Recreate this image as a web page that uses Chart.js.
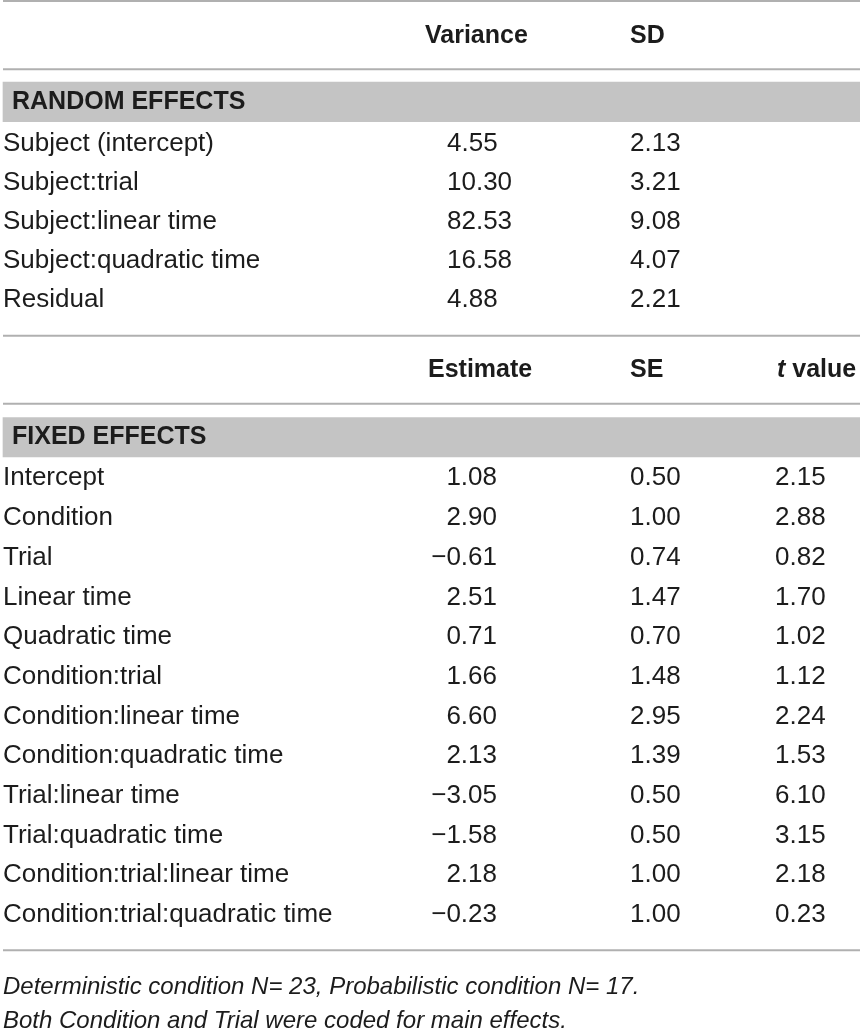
<!DOCTYPE html>
<html>
<head>
<meta charset="utf-8">
<script src="https://cdn.jsdelivr.net/npm/chart.js@4/dist/chart.umd.min.js"></script>
<style>
  html, body { margin: 0; padding: 0; background: #fff; }
  #wrap { width: 860px; height: 1031px; position: relative; }
</style>
</head>
<body>
<div id="wrap"><canvas id="tabela"></canvas></div>
<script>
// dados da tabela
const rfTitulo = "RANDOM EFFECTS";
const rfCabecalho = ["Variance", "SD"];
const rfRotulos = ["Subject (intercept)", "Subject:trial", "Subject:linear time", "Subject:quadratic time", "Residual"];
const rfVariancia = [4.55, 10.30, 82.53, 16.58, 4.88];
const rfDP = [2.13, 3.21, 9.08, 4.07, 2.21];

const feTitulo = "FIXED EFFECTS";
const feCabecalho = ["Estimate", "SE", "t value"];
const feRotulos = ["Intercept", "Condition", "Trial", "Linear time", "Quadratic time", "Condition:trial",
  "Condition:linear time", "Condition:quadratic time", "Trial:linear time", "Trial:quadratic time",
  "Condition:trial:linear time", "Condition:trial:quadratic time"];
const feEstimativa = [1.08, 2.90, -0.61, 2.51, 0.71, 1.66, 6.60, 2.13, -3.05, -1.58, 2.18, -0.23];
const feEP = [0.50, 1.00, 0.74, 1.47, 0.70, 1.48, 2.95, 1.39, 0.50, 0.50, 1.00, 1.00];
const feT = [2.15, 2.88, 0.82, 1.70, 1.02, 1.12, 2.24, 1.53, 6.10, 3.15, 2.18, 0.23];

const notas = ["Deterministic condition N= 23, Probabilistic condition N= 17.",
  "Both Condition and Trial were coded for main effects."];

// layout
const ROW = 39.5;          // altura de uma linha do corpo, em px
const ALTURA = 1031;
const FONTE = "'Liberation Sans', Arial, sans-serif";

function fmt(v) {
  const s = Math.abs(v).toFixed(2);
  return v < 0 ? "\u2212" + s : s; // sinal de menos tipográfico
}

// monta as linhas em unidades de "linha"
let cursor = 0;
const linhas = [];
function add(tipo, h, extra, pos) {
  linhas.push(Object.assign({ tipo: tipo, centro: cursor + h * (pos === undefined ? 0.5 : pos) }, extra || {}));
  cursor += h;
}

add("regua", 0.05);
add("cab", 1.7, { textos: rfCabecalho, xs: [425, 630] }, 0.47);
add("regua", 0);
add("vazio", 0.33);
add("faixa", 1, { texto: rfTitulo }, 0.45);
rfRotulos.forEach((r, i) => {
  add("linha", 0.988, { rotulo: r, celulas: [
    { t: fmt(rfVariancia[i]), x: 447, a: "left" },
    { t: fmt(rfDP[i]), x: 630, a: "left" }
  ]});
});
add("vazio", 0.48);
add("regua", 0);
add("cab", 1.72, { textos: feCabecalho, xs: [428, 630, 777] }, 0.47);
add("regua", 0);
add("vazio", 0.33);
add("faixa", 1, { texto: feTitulo }, 0.47);
feRotulos.forEach((r, i) => {
  add("linha", 1.005, { rotulo: r, celulas: [
    { t: fmt(feEstimativa[i]), x: 497, a: "right" },
    { t: fmt(feEP[i]), x: 630, a: "left" },
    { t: fmt(feT[i]), x: 775, a: "left" }
  ]});
});
add("vazio", 0.45);
add("regua", 0);
add("vazio", 0.44);
notas.forEach(n => add("nota", 0.87, { texto: n }));

const faixas = linhas.filter(l => l.tipo === "faixa");

// escreve o texto com a altura das maiúsculas centrada em y
function texto(ctx, t, x, y, tam) {
  ctx.fillText(t, x, y + tam * 0.36);
}

const desenhaTabela = {
  id: "desenhaTabela",
  afterDatasetsDraw(chart) {
    const ctx = chart.ctx;
    const sx = chart.scales.x, sy = chart.scales.y;
    const X = v => sx.getPixelForValue(v);
    const Y = v => sy.getPixelForValue(v);
    ctx.save();
    ctx.textBaseline = "alphabetic";
    ctx.fillStyle = "#1c1c1c";
    linhas.forEach(l => {
      const y = Y(l.centro);
      if (l.tipo === "regua") {
        ctx.strokeStyle = "#b0b0b0";
        ctx.lineWidth = 2;
        ctx.beginPath();
        ctx.moveTo(X(3), y);
        ctx.lineTo(X(860), y);
        ctx.stroke();
      } else if (l.tipo === "cab") {
        ctx.textAlign = "left";
        l.textos.forEach((t, i) => {
          let x = X(l.xs[i]);
          if (t.startsWith("t ")) { // "t" em itálico
            ctx.font = "italic bold 25px " + FONTE;
            texto(ctx, "t", x, y, 25);
            x += ctx.measureText("t ").width;
            t = t.slice(2);
          }
          ctx.font = "bold 25px " + FONTE;
          texto(ctx, t, x, y, 25);
        });
      } else if (l.tipo === "faixa") {
        ctx.textAlign = "left";
        ctx.font = "bold 25px " + FONTE;
        texto(ctx, l.texto, X(12), y, 25);
      } else if (l.tipo === "linha") {
        ctx.font = "26px " + FONTE;
        ctx.textAlign = "left";
        texto(ctx, l.rotulo, X(3), y, 26);
        l.celulas.forEach(c => {
          ctx.textAlign = c.a;
          texto(ctx, c.t, X(c.x), y, 26);
        });
      } else if (l.tipo === "nota") {
        ctx.font = "italic 24px " + FONTE;
        ctx.textAlign = "left";
        texto(ctx, l.texto, X(3), y, 24);
      }
    });
    ctx.restore();
  }
};

new Chart(document.getElementById("tabela"), {
  type: "bar",
  data: {
    datasets: [{
      label: "faixas",
      data: faixas.map(f => ({ y: cursorBand(f), x: [3, 860] })),
      backgroundColor: "#c4c4c4",
      borderWidth: 0,
      barThickness: ROW,
      grouped: false
    }]
  },
  options: {
    indexAxis: "y",
    responsive: true,
    maintainAspectRatio: false,
    animation: false,
    events: [],
    layout: { padding: 0 },
    scales: {
      x: { type: "linear", min: 0, max: 860, display: false, offset: false },
      y: { type: "linear", min: 0, max: ALTURA / ROW, reverse: true, display: false, offset: false }
    },
    plugins: {
      legend: { display: false },
      tooltip: { enabled: false },
      title: { display: false }
    }
  },
  plugins: [desenhaTabela]
});

// a faixa cinza fica centrada na célula, o texto um pouco acima
function cursorBand(f) {
  return f.centro + 0.05;
}
</script>
</body>
</html>
